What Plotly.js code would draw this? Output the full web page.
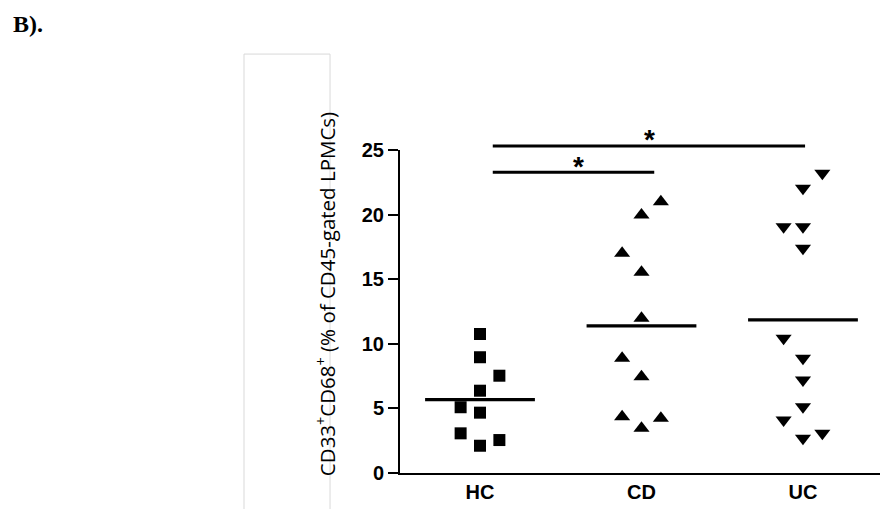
<!DOCTYPE html>
<html>
<head>
<meta charset="utf-8">
<script src="https://cdn.plot.ly/plotly-3.0.1.min.js"></script>
<style>html,body{margin:0;padding:0;background:#fff;}#chart{width:881px;height:509px;}</style>
</head>
<body>
<div id="chart"></div>
<script>
// ---- data ----
const categories = ['HC', 'CD', 'UC'];
const hcValues = [10.76, 8.96, 7.53, 6.37, 5.09, 4.67, 3.07, 2.55, 2.11];
const hcJitter = [0, 0, 1, 0, -1, 0, -1, 1, 0];
const cdValues = [21.0, 19.97, 17.0, 15.53, 11.97, 8.88, 7.45, 4.36, 4.23, 3.46];
const cdJitter = [1, 0, -1, 0, 0, -1, 0, -1, 1, 0];
const ucValues = [23.2, 22.04, 19.06, 19.06, 17.39, 10.43, 8.88, 7.2, 5.13, 4.1, 3.07, 2.69];
const ucJitter = [1, 0, -1, 0, 0, -1, 0, 0, 0, -1, 1, 0];
const yTickVals = [0, 5, 10, 15, 20, 25];
const significance = [
  {from: 'HC', to: 'CD', label: '*'},
  {from: 'HC', to: 'UC', label: '*'}
];

// ---- build ----
const step = 0.12;
const groups = [
  {vals: hcValues, jit: hcJitter, sym: 'square', size: 12},
  {vals: cdValues, jit: cdJitter, sym: 'triangle-up', size: 14},
  {vals: ucValues, jit: ucJitter, sym: 'triangle-down', size: 14}
];
const traces = [];
groups.forEach((g, i) => {
  const cx = i + 1;
  traces.push({
    type: 'scatter', mode: 'markers',
    x: g.vals.map((v, k) => cx + g.jit[k] * step),
    y: g.vals,
    marker: {symbol: g.sym, size: g.size, color: '#000', line: {width: 0}},
    hoverinfo: 'y', showlegend: false, cliponaxis: false
  });
  const mean = g.vals.reduce((a, b) => a + b, 0) / g.vals.length;
  traces.push({
    type: 'scatter', mode: 'lines',
    x: [cx - 0.34, cx + 0.34], y: [mean, mean],
    line: {color: '#000', width: 3.2},
    hoverinfo: 'skip', showlegend: false
  });
});

const yBar = [0.931, 1.0124];
const yStar = [0.895, 0.978];
const starX = [1.607, 2.05];
const shapes = [];
const annotations = [];
significance.forEach((s, i) => {
  const a = categories.indexOf(s.from) + 1 + 0.079;
  const b = categories.indexOf(s.to) + 1 + (i === 0 ? 0.079 : 0.013);
  shapes.push({type: 'line', xref: 'x', yref: 'paper', x0: a, x1: b, y0: yBar[i], y1: yBar[i],
    line: {color: '#000', width: 3}});
  annotations.push({xref: 'x', yref: 'paper', x: starX[i], y: yStar[i],
    text: '<b>' + s.label + '</b>', showarrow: false, xanchor: 'center', yanchor: 'bottom',
    font: {family: 'Arial, Liberation Sans, sans-serif', size: 28, color: '#000'}});
});
// grey frame at left
shapes.push({type: 'line', xref: 'paper', yref: 'paper', x0: -0.325, x1: -0.325, y0: 1.297, y1: -0.12, line: {color: '#d9d9d9', width: 1}});
shapes.push({type: 'line', xref: 'paper', yref: 'paper', x0: -0.1458, x1: -0.1458, y0: 1.297, y1: -0.12, line: {color: '#d9d9d9', width: 1}});
shapes.push({type: 'line', xref: 'paper', yref: 'paper', x0: -0.325, x1: -0.1458, y0: 1.297, y1: 1.297, line: {color: '#d9d9d9', width: 1}});

annotations.push({xref: 'paper', yref: 'paper', x: -0.154, y: 0.554, textangle: -90,
  text: 'CD33<sup>+</sup>CD68<sup>+</sup> (% of CD45-gated LPMCs)', showarrow: false,
  xanchor: 'center', yanchor: 'middle',
  font: {family: 'Open Sans, sans-serif', size: 20.5, color: '#000'}});
annotations.push({xref: 'paper', yref: 'paper', x: -0.81, y: 1.39, text: '<b>B).</b>', showarrow: false,
  xanchor: 'left', yanchor: 'middle',
  font: {family: 'Liberation Serif, Times New Roman, serif', size: 24, color: '#000'}});

const layout = {
  width: 881, height: 509,
  margin: {l: 400, r: 1, t: 150, b: 36},
  paper_bgcolor: '#fff', plot_bgcolor: '#fff',
  showlegend: false,
  xaxis: {
    range: [0.5046, 3.477], tickvals: [1, 2, 3], ticktext: categories,
    showgrid: false, zeroline: false, showline: true, linecolor: '#000', linewidth: 2,
    ticks: '', ticklen: 0,
    tickfont: {family: 'Arial, Liberation Sans, sans-serif', size: 20, color: '#000', weight: 'bold'}
  },
  yaxis: {
    range: [0, 25], tickvals: yTickVals,
    showgrid: false, zeroline: false, showline: true, linecolor: '#000', linewidth: 2,
    ticks: 'outside', ticklen: 10, tickwidth: 2, tickcolor: '#000',
    tickfont: {family: 'Arial, Liberation Sans, sans-serif', size: 20, color: '#000', weight: 'bold'}
  },
  shapes: shapes,
  annotations: annotations
};

Plotly.newPlot('chart', traces, layout, {displayModeBar: false, staticPlot: true});
</script>
</body>
</html>
